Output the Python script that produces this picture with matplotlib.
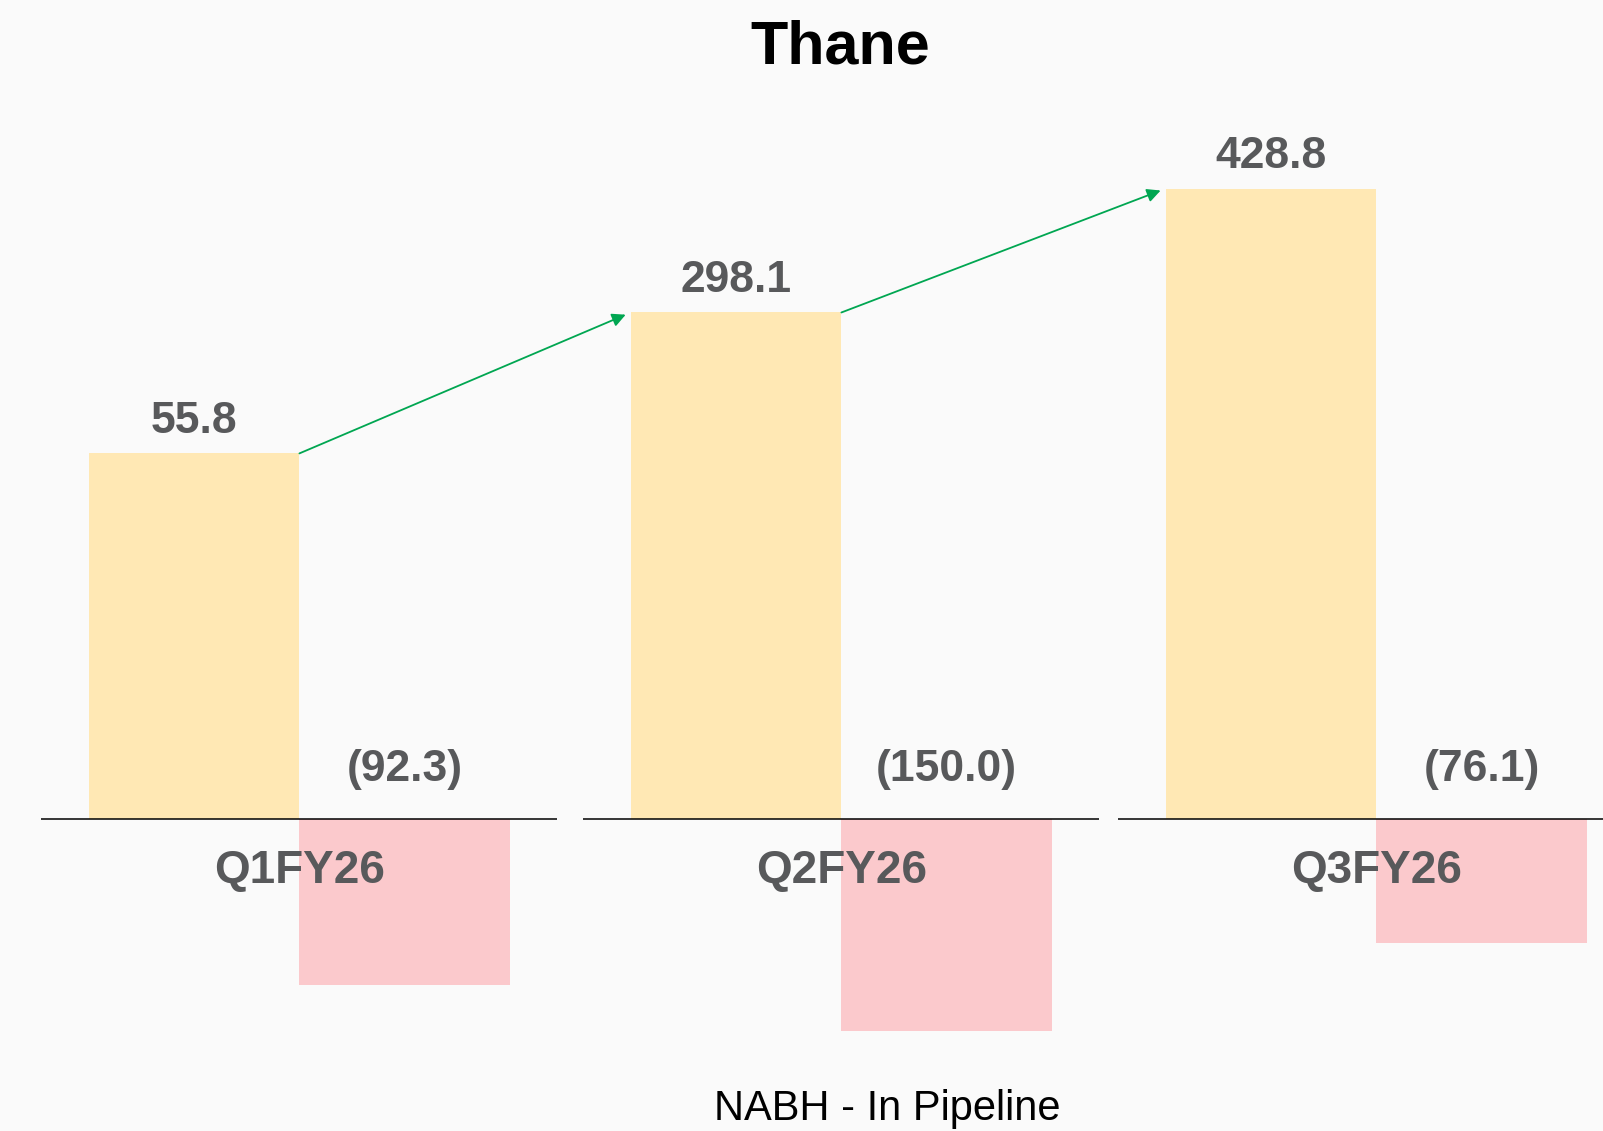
import numpy as np
import matplotlib.pyplot as plt
from matplotlib.patches import ConnectionPatch

plt.rcParams['font.family'] = ['Liberation Sans', 'DejaVu Sans']

# data
quarters = ['Q1FY26', 'Q2FY26', 'Q3FY26']
positive = [55.8, 298.1, 428.8]
negative = [-92.3, -150.0, -76.1]
title = 'Thane'
footer = 'NABH - In Pipeline'

# layout (pixels of a 1603x1131 canvas) and per-group axis limits
W, H = 1603, 1131
base = (H - 819) / H          # height of the zero line, figure fraction
group_left = [41, 583, 1118]
group_width = 516
pos_top = [125, 482, 557]     # each group uses its own scale, as in the source
neg_bottom = [-174, -221, -191]

yellow = '#FFE8B4'
pink = '#FBC9CC'
green = '#00A651'
gray = '#58595B'

fig = plt.figure(figsize=(W / 100, H / 100), dpi=100)
fig.patch.set_facecolor('#fafafa')

pos_axes = []
for i in range(len(quarters)):
    ax = fig.add_axes([group_left[i] / W, 0, group_width / W, 1])
    ax2 = ax.twinx()
    for a in (ax, ax2):
        a.set_axis_off()
        a.set_xlim(-0.727, 1.723)
    ax.set_ylim(-pos_top[i] * base / (1 - base), pos_top[i])
    ax2.set_ylim(neg_bottom[i], -neg_bottom[i] * (1 - base) / base)

    ax.bar(0, positive[i], width=1, color=yellow)
    ax2.bar(1, negative[i], width=1, color=pink)
    ax2.axhline(0, color='black', lw=1.1)

    # labels go on the top axes so they sit above the bars
    ax2.annotate(f'{positive[i]:.1f}', xy=(0, positive[i]), xycoords=ax.transData,
                 xytext=(0, 15), textcoords='offset points', ha='center', va='baseline',
                 fontsize=32, fontweight='bold', color=gray)
    ax2.annotate(f'({abs(negative[i]):.1f})', xy=(1, 0), xytext=(0, 27),
                 textcoords='offset points', ha='center', va='baseline',
                 fontsize=32, fontweight='bold', color=gray)
    ax2.annotate(quarters[i], xy=(0.5, 0), xytext=(0, -46),
                 textcoords='offset points', ha='center', va='baseline',
                 fontsize=33, fontweight='bold', color=gray)
    pos_axes.append(ax)

# green growth arrows between tops of the yellow bars
for i in range(len(quarters) - 1):
    con = ConnectionPatch(xyA=(0.5, positive[i]), coordsA=pos_axes[i].transData,
                          xyB=(-0.5, positive[i + 1]), coordsB=pos_axes[i + 1].transData,
                          arrowstyle='-|>', mutation_scale=20, color=green,
                          lw=1.3, shrinkA=0, shrinkB=4)
    fig.add_artist(con)

fig.text(840 / W, 1 - 63 / H, title, ha='center', va='baseline',
         fontsize=44, fontweight='bold', color='black')
fig.text(887 / W, 1 - 1120 / H, footer, ha='center', va='baseline',
         fontsize=30, color='black')

fig.savefig('out.png', dpi=100, facecolor=fig.get_facecolor())
